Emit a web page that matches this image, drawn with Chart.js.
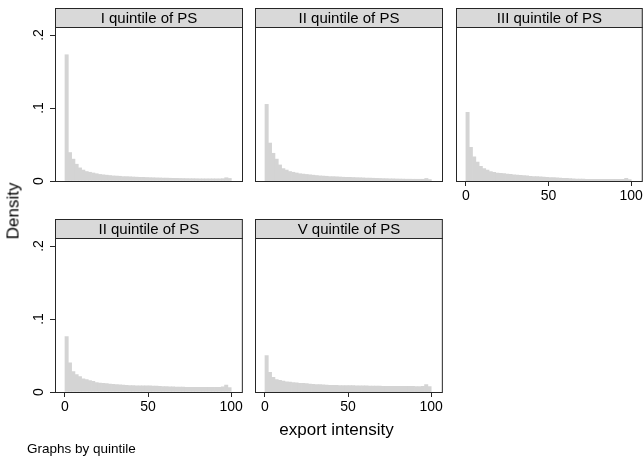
<!DOCTYPE html>
<html>
<head>
<meta charset="utf-8">
<script src="https://cdn.jsdelivr.net/npm/chart.js@4.4.1/dist/chart.umd.min.js"></script>
<style>
  body { margin: 0; background: #fff; width: 644px; height: 459px; position: relative; overflow: hidden;
         font-family: "Liberation Sans", Arial, Helvetica, sans-serif; color: #000; }
  canvas { position: absolute; }
  .lbl { position: absolute; white-space: nowrap; line-height: 1; }
</style>
</head>
<body>
<canvas id="p1" width="225" height="215" style="left:20px;top:0px"></canvas>
<canvas id="p2" width="192" height="215" style="left:253px;top:0px"></canvas>
<canvas id="p3" width="191" height="215" style="left:454px;top:0px"></canvas>
<canvas id="p4" width="225" height="216" style="left:20px;top:210px"></canvas>
<canvas id="p5" width="192" height="216" style="left:253px;top:210px"></canvas>

<div class="lbl" id="ytitle" style="font-size:17px;left:13px;top:210.5px;transform:translate(-50%,-50%) rotate(-90deg)">Density</div>
<div class="lbl" style="font-size:17px;left:336.5px;top:421px;transform:translateX(-50%)">export intensity</div>
<div class="lbl" style="font-size:13.5px;left:27px;top:442px">Graphs by quintile</div>

<script>
// bin centres (bins of width 2 from 0 to 100)
const binCenters = [1,3,5,7,9,11,13,15,17,19,21,23,25,27,29,31,33,35,37,39,41,43,45,47,49,
                    51,53,55,57,59,61,63,65,67,69,71,73,75,77,79,81,83,85,87,89,91,93,95,97,99];

const panelTitles = ['I quintile of PS', 'II quintile of PS', 'III quintile of PS', 'II quintile of PS', 'V quintile of PS'];

// density per bin
const q1Density = [0.173,0.039,0.030,0.023,0.018,0.015,0.013,0.012,0.011,0.010,0.009,0.0085,0.008,0.0075,0.007,0.0068,0.0065,0.006,0.006,0.0058,
                   0.0055,0.0053,0.005,0.005,0.0048,0.0046,0.0045,0.0043,0.0042,0.004,0.004,0.0038,0.0037,0.0036,0.0035,0.0034,0.0033,0.0032,0.0032,0.0031,
                   0.003,0.003,0.003,0.003,0.003,0.003,0.003,0.0032,0.0045,0.0035];
const q2Density = [0.105,0.052,0.038,0.030,0.022,0.017,0.015,0.013,0.012,0.011,0.010,0.0095,0.009,0.0085,0.008,0.0075,0.007,0.0068,0.0065,0.006,
                   0.006,0.0058,0.0055,0.0052,0.005,0.005,0.0048,0.0046,0.0045,0.0043,0.004,0.004,0.0038,0.0036,0.0035,0.0033,0.0032,0.003,0.003,0.0028,
                   0.0027,0.0026,0.0025,0.0025,0.0024,0.0024,0.0024,0.0024,0.0035,0.002];
const q3Density = [0.094,0.046,0.033,0.026,0.020,0.017,0.015,0.013,0.012,0.011,0.0105,0.010,0.0095,0.009,0.0085,0.008,0.0078,0.0075,0.007,0.0065,
                   0.006,0.006,0.0058,0.0055,0.005,0.0048,0.0046,0.0042,0.004,0.0038,0.0035,0.0032,0.003,0.0028,0.0026,0.0025,0.0024,0.0023,0.0023,0.0022,
                   0.0022,0.0022,0.0022,0.0022,0.0022,0.0022,0.0022,0.0023,0.0035,0.002];
const q4Density = [0.076,0.040,0.028,0.024,0.021,0.018,0.017,0.0155,0.0145,0.013,0.0123,0.012,0.0115,0.011,0.0105,0.010,0.0098,0.0095,0.009,0.0088,
                   0.0088,0.0085,0.0085,0.0085,0.0085,0.0083,0.008,0.008,0.0078,0.0075,0.0075,0.0072,0.007,0.0068,0.0068,0.0066,0.0065,0.0065,0.0064,0.0064,
                   0.0064,0.0064,0.0064,0.0064,0.0065,0.0065,0.0065,0.007,0.0095,0.006];
const q5Density = [0.050,0.027,0.020,0.017,0.016,0.015,0.014,0.0135,0.013,0.0125,0.012,0.0118,0.0115,0.011,0.0105,0.0102,0.010,0.0097,0.0095,0.0092,
                   0.009,0.009,0.0088,0.0088,0.0087,0.0087,0.0087,0.0086,0.0085,0.0085,0.0084,0.0082,0.008,0.008,0.008,0.0079,0.0078,0.0078,0.0078,0.0078,
                   0.0078,0.0077,0.0076,0.0076,0.0076,0.0075,0.0075,0.0078,0.010,0.0075];

const yTickValues = [0, 0.1, 0.2];
const yTickLabels = ['0', '.1', '.2'];
const xTickValues = [0, 50, 100];

const FONT = '"Liberation Sans", Arial, Helvetica, sans-serif';
const LINE = '#262626';
const BAR = '#d4d4d4';
const STRIP = '#d9d9d9';
const STRIP_H = 19;

// grey title strip above the plot region + box around the plot
const stripPlugin = {
  id: 'strip',
  afterDraw(chart, args, opts) {
    const { ctx, chartArea: a } = chart;
    const w = a.right - a.left;
    ctx.save();
    ctx.fillStyle = STRIP;
    ctx.fillRect(a.left, a.top - STRIP_H, w, STRIP_H);
    ctx.strokeStyle = LINE;
    ctx.lineWidth = 1;
    ctx.strokeRect(a.left + 0.5, a.top - STRIP_H + 0.5, w - 1, STRIP_H);
    ctx.strokeRect(a.left + 0.5, a.top + 0.5, w - 1, a.bottom - a.top);
    ctx.fillStyle = '#000';
    ctx.font = '15px ' + FONT;
    ctx.textAlign = 'center';
    ctx.textBaseline = 'middle';
    ctx.fillText(opts.title, a.left + w / 2, a.top - STRIP_H / 2 + 1);
    ctx.restore();
  }
};

function makePanel(id, title, values, showY, showX, padTop) {
  new Chart(document.getElementById(id), {
    type: 'bar',
    data: {
      datasets: [{
        data: binCenters.map((x, i) => ({ x: x, y: values[i] })),
        backgroundColor: BAR,
        borderWidth: 0,
        barPercentage: 1,
        categoryPercentage: 1
      }]
    },
    options: {
      responsive: false,
      animation: false,
      devicePixelRatio: 1,
      layout: { padding: { top: padTop, left: 0, right: 2, bottom: 0 } },
      plugins: { legend: { display: false }, tooltip: { enabled: false }, strip: { title: title } },
      scales: {
        x: {
          type: 'linear',
          min: -6, max: 107,
          offset: false,
          afterBuildTicks: s => { s.ticks = xTickValues.map(v => ({ value: v })); },
          afterFit: s => { s.height = 34; },
          border: { display: false },
          grid: { display: showX, drawOnChartArea: false, drawTicks: true, tickLength: 5, color: LINE, offset: false },
          ticks: { display: showX, autoSkip: false, maxRotation: 0, padding: 2, color: '#000', font: { family: FONT, size: 14 } }
        },
        y: {
          min: 0, max: 0.211,
          afterBuildTicks: s => { s.ticks = yTickValues.map(v => ({ value: v })); },
          afterFit: s => { s.width = showY ? 35 : 2; },
          border: { display: false },
          grid: { display: showY, drawOnChartArea: false, drawTicks: true, tickLength: 5, color: LINE },
          ticks: {
            display: showY, autoSkip: false, minRotation: 90, maxRotation: 90, crossAlign: 'center', padding: 5,
            color: '#000', font: { family: FONT, size: 14 },
            callback: (v) => yTickLabels[yTickValues.indexOf(v)]
          }
        }
      }
    },
    plugins: [stripPlugin]
  });
}

makePanel('p1', panelTitles[0], q1Density, true, false, 27);
makePanel('p2', panelTitles[1], q2Density, false, false, 27);
makePanel('p3', panelTitles[2], q3Density, false, true, 27);
makePanel('p4', panelTitles[3], q4Density, true, true, 28);
makePanel('p5', panelTitles[4], q5Density, false, true, 28);
</script>
</body>
</html>
